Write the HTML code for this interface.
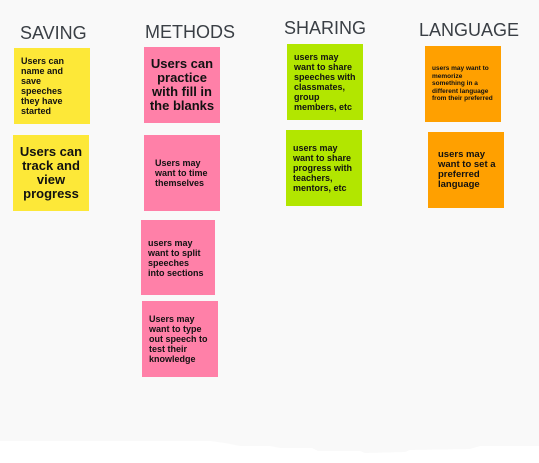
<!DOCTYPE html>
<html><head><style>
html,body{margin:0;padding:0;width:539px;height:463px;background:#fff;overflow:hidden;font-family:"Liberation Sans",sans-serif;}
.bg{position:absolute;left:0;top:0}
.t{position:absolute;font-size:18px;color:#3a3f45;line-height:20px;white-space:nowrap}
.n{position:absolute;width:76px;height:76px;box-sizing:border-box;padding:0 7px;display:flex;align-items:center;color:#111;font-weight:bold;font-size:9px;line-height:10px}
.y{background:#fde838}.p{background:#ff80a8}.g{background:#b2e600}.o{background:#ffa000}
.big{font-size:13px;line-height:14px;justify-content:center;text-align:center;padding:0 4px}
</style></head><body>
<svg class="bg" width="539" height="463"><polygon fill="#f9f9f9" points="0,0 539,0 539,446 480,446 470,449 410,450 405,452 365,453 360,451 318,451 312,448 280,448 270,446 240,446 225,443 210,441 0,441"/></svg>
<div class="t" style="left:20px;top:23px">SAVING</div>
<div class="t" style="left:145px;top:22px">METHODS</div>
<div class="t" style="left:284px;top:18px">SHARING</div>
<div class="t" style="left:419px;top:20px">LANGUAGE</div>
<div class="n y" style="left:14px;top:48px">Users can name and save speeches they have started</div>
<div class="n y big" style="left:13px;top:135px">Users can track and view progress</div>
<div class="n p big" style="left:144px;top:47px">Users can practice with fill in the blanks</div>
<div class="n p" style="left:144px;top:135px;padding-left:11px">Users may want to time themselves</div>
<div class="n p" style="left:141px;top:220px;width:74px;height:75px">users may want to split speeches into sections</div>
<div class="n p" style="left:142px;top:301px;height:76px">Users may want to type out speech to test their knowledge</div>
<div class="n g" style="left:287px;top:44px;padding:0 4px 0 7px">users may want to share speeches with classmates, group members, etc</div>
<div class="n g" style="left:286px;top:130px;padding:0 4px 0 7px">users may want to share progress with teachers, mentors, etc</div>
<div class="n o" style="left:425px;top:46px;font-size:6.5px;line-height:7.5px">users may want to memorize something in a different language from their preferred</div>
<div class="n o" style="left:428px;top:132px;padding-left:10px;font-size:9.5px">users may want to set a preferred language</div>
</body></html>
